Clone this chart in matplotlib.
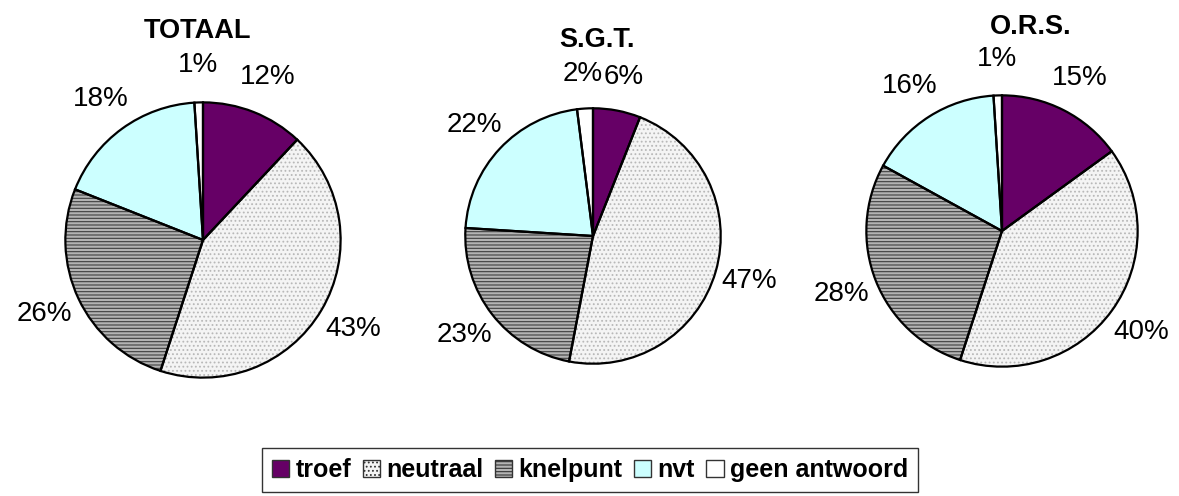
import matplotlib.pyplot as plt
from matplotlib.patches import Patch

# data
categories = ['troef', 'neutraal', 'knelpunt', 'nvt', 'geen antwoord']
titles = ['TOTAAL', 'S.G.T.', 'O.R.S.']
totaal = [12, 43, 26, 18, 1]
sgt = [6, 47, 23, 22, 2]
ors = [15, 40, 28, 16, 1]

colors = ['#660066', '#f4f4f4', '#b4b4b4', '#ccffff', '#ffffff']
hatches = [None, '....', '-----', None, None]
hatch_cols = ['#660066', '#b8b8b8', '#404040', '#ccffff', '#ffffff']

plt.rcParams['font.family'] = ['Liberation Sans', 'DejaVu Sans']
plt.rcParams['hatch.linewidth'] = 0.8

W, H = 1179, 496
fig = plt.figure(figsize=(W / 100, H / 100), dpi=100)

# pie centre x, y, radius, title x, title y (pixels)
layout = [(203, 240, 139, 198, 31),
          (593, 236, 129, 597, 40),
          (1002, 231, 137, 1031, 27)]

for vals, title, (cx, cy, r, tx, ty) in zip([totaal, sgt, ors], titles, layout):
    ax = fig.add_axes([(cx - r) / W, (H - cy - r) / H, 2 * r / W, 2 * r / H])
    labels = [f'{v}%' for v in vals]
    # fill + hatch layer
    wedges, _ = ax.pie(vals, colors=colors, startangle=90, counterclock=False,
                       wedgeprops=dict(linewidth=0))
    for w, h, hc in zip(wedges, hatches, hatch_cols):
        w.set_edgecolor(hc)
        if h:
            w.set_hatch(h)
    # outline layer + labels
    ax.pie(vals, labels=labels, startangle=90, counterclock=False,
           labeldistance=1.27,
           wedgeprops=dict(facecolor='none', edgecolor='black', linewidth=1.6),
           textprops=dict(fontsize=20, ha='center', va='center'))
    ax.set_xlim(-1.01, 1.01)
    ax.set_ylim(-1.01, 1.01)
    ax.set_aspect('equal')
    fig.text(tx / W, 1 - ty / H, title, ha='center', va='center',
             fontsize=19.5, fontweight='bold')

handles = [Patch(facecolor=c, edgecolor='#333333', hatch=h, linewidth=1)
           for c, h in zip(colors, hatches)]
fig.legend(handles, categories, loc='center', bbox_to_anchor=(590 / W, 1 - 470 / H),
           ncol=5, frameon=True, fancybox=False, edgecolor='black',
           prop=dict(weight='bold', size=18), handlelength=0.7, handleheight=0.7,
           handletextpad=0.25, columnspacing=0.45, borderpad=0.4,
           borderaxespad=0)

fig.savefig('out.png', dpi=100)
